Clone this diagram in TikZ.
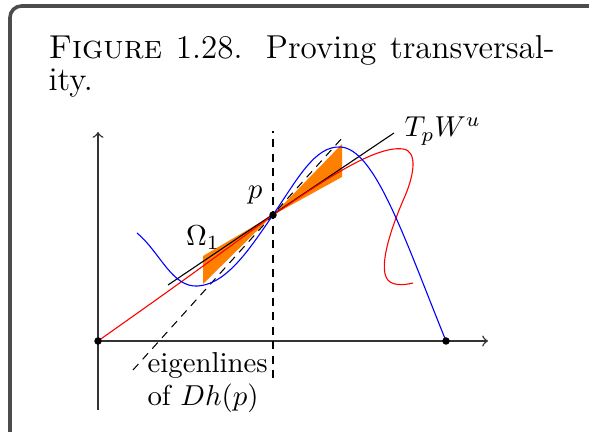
\documentclass[tikz,border=0pt]{standalone}
\begin{document}
\begin{tikzpicture}[x=0.347pt,y=-0.347pt,
  frame/.style={draw=black!70,line width=1.25pt,rounded corners=4pt},
  axis/.style={draw=black!80,line width=0.5pt,->},
  dot/.style={circle,fill=black,inner sep=0pt,minimum size=2.6pt},
  eigen/.style={draw=black,line width=0.36pt,dash pattern=on 2.8pt off 2.2pt},
  cone/.style={fill=orange,draw=none},
  curve/.style={line width=0.38pt},
  lbl/.style={inner sep=0pt},
  captext/.style={inner sep=0pt,font=\fontsize{11.5}{14}\selectfont}]
\useasboundingbox (0,0) rectangle (589,432);
\draw[frame] (10,6) rectangle (610,450);
% caption
\node[captext,anchor=base west] (cap1) at (48,59) {\makebox[175.6pt][s]{\textsc{Figure} 1.28. Proving transversal-}};
\node[captext,anchor=base west] (cap2) at (48,91) {ity.};
% coordinates
\coordinate (O) at (98,341);
\coordinate (ybot) at (98,410);
\coordinate (ytop) at (98,132);
\coordinate (xend) at (488,341);
\coordinate (P) at (273,215);
\coordinate (vtop) at (273,131);
\coordinate (vbot) at (273,378);
\coordinate (eA) at (133,370);
\coordinate (eB) at (343,137);
\coordinate (tA) at (168,285);
\coordinate (tB) at (394,133);
% cones
\fill[cone] (P) -- (203,256) -- (203,284) -- cycle;
\fill[cone] (P) -- (342,144) -- (342,177) -- cycle;
% axes
\draw[axis] (ybot) -- (ytop);
\draw[axis] (O) -- (xend);
% dashed lines
\draw[eigen] (vbot) -- (vtop);
\draw[eigen] (eA) -- (eB);
% tangent line
\draw[curve,black] (tA) -- (tB);
% red curve
\draw[curve,red] (O) .. controls (180,283) .. (P)
  .. controls (320,183) and (375,145) .. (403,149)
  .. controls (418,151) and (414,175) .. (405,196)
  .. controls (391,228) and (380,262) .. (386,277)
  .. controls (390,287) and (405,285) .. (413,283);
% blue curve
\draw[curve,blue] (137,233) .. controls (160,252) and (172,288) .. (198,286)
  .. controls (228,284) and (252,245) .. (P)
  .. controls (298,178) and (315,146) .. (340,147)
  .. controls (375,148) and (405,240) .. (446,341);
% dots
\node[dot] (o) at (O) {};
\node[dot] (q) at (446,341) {};
\node[dot] (p) at (P) {};
% labels
\node[lbl] (plab) at (255,195) {$p$};
\node[lbl] (omega) at (203,238) {$\Omega_1$};
\node[lbl,anchor=base west] (tw) at (404,137) {$T_pW^u$};
\node[lbl,anchor=base west] (eig1) at (147,373) {eigenlines};
\node[lbl,anchor=base west] (eig2) at (147,406) {of $Dh(p)$};
\end{tikzpicture}
\end{document}
